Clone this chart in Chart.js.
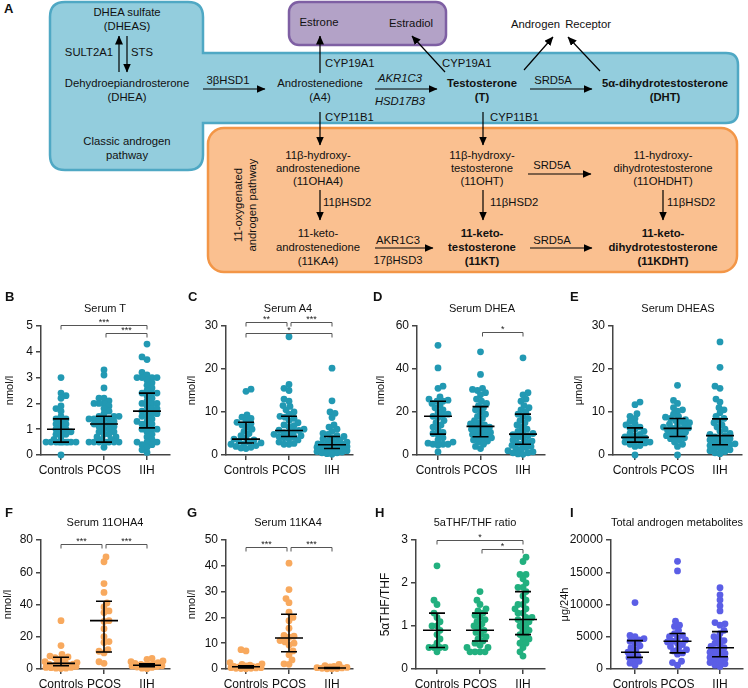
<!DOCTYPE html>
<html><head><meta charset="utf-8">
<script src="https://cdn.jsdelivr.net/npm/chart.js@4.4.1/dist/chart.umd.min.js"></script>
<style>
body{margin:0;background:#fff;}
#wrap{position:relative;width:748px;height:688px;overflow:hidden;font-family:'Liberation Sans',Arial,sans-serif;color:#111;background:#fff;}
.ttl{position:absolute;white-space:nowrap;transform:translate(-50%,-50%);font-size:11px;line-height:1;z-index:2;}
.let{position:absolute;font-weight:bold;font-size:13px;line-height:1;transform:translateY(-50%);z-index:2;}
canvas{position:absolute;}
svg text{fill:#111;}
</style></head><body><div id="wrap">
<svg width="748" height="285" style="position:absolute;left:0;top:0" font-family="Liberation Sans, Arial, sans-serif" font-size="11">
<defs><marker id="ah" markerUnits="userSpaceOnUse" markerWidth="9" markerHeight="8" refX="8.5" refY="4" orient="auto"><path d="M0,0 L9,4 L0,8 z" fill="#000"/></marker></defs>
<path d="M65,2 H188 Q203,2 203,17 V53 H726 Q738,53 738,65 V111 Q738,123 726,123 H203 V155 Q203,170 188,170 H65 Q50,170 50,155 V17 Q50,2 65,2 Z" fill="#93cddd" stroke="#4fa8c4" stroke-width="2.5"/>
<rect x="289" y="2" width="157" height="43" rx="10" fill="#b3a2c7" stroke="#7e5fa3" stroke-width="2.5"/>
<rect x="208" y="128" width="529" height="144" rx="16" fill="#fac090" stroke="#f39647" stroke-width="2.5"/>
<g stroke="#000" stroke-width="1.2" marker-end="url(#ah)">
<line x1="119" y1="72" x2="119" y2="36"/>
<line x1="127" y1="36" x2="127" y2="72"/>
<line x1="203" y1="89" x2="265" y2="89"/>
<line x1="320" y1="73" x2="320" y2="36"/>
<line x1="445" y1="72" x2="412" y2="36"/>
<line x1="375" y1="89" x2="437" y2="89"/>
<line x1="530" y1="89" x2="592" y2="89"/>
<line x1="524" y1="70" x2="553" y2="37"/>
<line x1="600" y1="71" x2="568" y2="37"/>
<line x1="320" y1="112" x2="320" y2="145"/>
<line x1="483" y1="112" x2="483" y2="145"/>
<line x1="320" y1="190" x2="320" y2="220"/>
<line x1="483" y1="190" x2="483" y2="220"/>
<line x1="663" y1="190" x2="663" y2="220"/>
<line x1="528" y1="174" x2="591" y2="174"/>
<line x1="375" y1="248" x2="433" y2="248"/>
<line x1="530" y1="248" x2="592" y2="248"/>
</g>
<g dominant-baseline="central" text-anchor="middle" font-size="11.3">
<text x="127" y="12">DHEA sulfate</text>
<text x="127" y="26">(DHEAS)</text>
<text x="113" y="52" text-anchor="end">SULT2A1</text>
<text x="131" y="52" text-anchor="start">STS</text>
<text x="127" y="83">Dehydroepiandrosterone</text>
<text x="127" y="97">(DHEA)</text>
<text x="228" y="80">3βHSD1</text>
<text x="320" y="83">Androstenedione</text>
<text x="320" y="97">(A4)</text>
<text x="319" y="22">Estrone</text>
<text x="325" y="63" text-anchor="start">CYP19A1</text>
<text x="411" y="23">Estradiol</text>
<text x="442" y="63" text-anchor="start">CYP19A1</text>
<text x="400" y="78" font-style="italic">AKR1C3</text>
<text x="400" y="101" font-style="italic">HSD17B3</text>
<text x="482" y="83" font-weight="bold">Testosterone</text>
<text x="482" y="97" font-weight="bold">(T)</text>
<text x="553" y="80">SRD5A</text>
<text x="665" y="83" font-weight="bold">5α-dihydrotestosterone</text>
<text x="665" y="97" font-weight="bold">(DHT)</text>
<text x="561" y="24" word-spacing="2">Androgen Receptor</text>
<text x="325" y="117" text-anchor="start">CYP11B1</text>
<text x="490" y="117" text-anchor="start">CYP11B1</text>
<text x="127" y="141">Classic androgen</text>
<text x="127" y="155">pathway</text>
<text transform="translate(238,205) rotate(-90)">11-oxygenated</text>
<text transform="translate(252,205) rotate(-90)">androgen pathway</text>
<text x="318" y="155">11β-hydroxy-</text>
<text x="318" y="168">androstenedione</text>
<text x="318" y="181">(11OHA4)</text>
<text x="323" y="202" text-anchor="start">11βHSD2</text>
<text x="318" y="233">11-keto-</text>
<text x="318" y="247">androstenedione</text>
<text x="318" y="261">(11KA4)</text>
<text x="398" y="240">AKR1C3</text>
<text x="398" y="260">17βHSD3</text>
<text x="482" y="155">11β-hydroxy-</text>
<text x="482" y="168">testosterone</text>
<text x="482" y="181">(11OHT)</text>
<text x="490" y="202" text-anchor="start">11βHSD2</text>
<text x="482" y="233" font-weight="bold">11-keto-</text>
<text x="482" y="247" font-weight="bold">testosterone</text>
<text x="482" y="261" font-weight="bold">(11KT)</text>
<text x="552" y="165">SRD5A</text>
<text x="552" y="240">SRD5A</text>
<text x="663" y="155">11-hydroxy-</text>
<text x="663" y="168">dihydrotestosterone</text>
<text x="663" y="181">(11OHDHT)</text>
<text x="667" y="202" text-anchor="start">11βHSD2</text>
<text x="663" y="233" font-weight="bold">11-keto-</text>
<text x="663" y="247" font-weight="bold">dihydrotestosterone</text>
<text x="663" y="261" font-weight="bold">(11KDHT)</text>
</g>
</svg>
<div class="let" style="left:4px;top:8px">A</div>
</div>
<script>
// ---------- DATA ----------
const CATEGORIES = ['Controls', 'PCOS', 'IIH'];

const T_CONTROLS = [3.0, 2.4, 2.3, 2.2, 1.9, 1.8, 1.7, 1.5, 1.4, 1.4, 1.3, 1.2, 1.2, 1.1, 1.0, 1.0, 0.9, 0.9, 0.8, 0.8, 0.7, 0.6, 0.5, 0.5, 0.5, 0.5, 0.5, 0.5, 0.5, 0.5, 0.5, 0.5, 0.0];
const T_PCOS = [3.3, 3.1, 2.6, 2.2, 2.2, 2.1, 2.0, 2.0, 2.0, 1.9, 1.8, 1.7, 1.6, 1.5, 1.5, 1.5, 1.4, 1.4, 1.4, 1.4, 1.3, 1.3, 1.2, 1.2, 1.2, 1.1, 1.1, 1.0, 1.0, 0.9, 0.9, 0.8, 0.8, 0.7, 0.7, 0.6, 0.6, 0.5, 0.5, 0.5, 0.5, 0.5, 0.5, 0.5, 0.5, 0.3];
const T_IIH = [4.3, 3.8, 3.7, 3.2, 3.1, 3.0, 3.0, 3.0, 3.0, 2.9, 2.8, 2.7, 2.6, 2.5, 2.4, 2.4, 2.4, 2.3, 2.2, 2.1, 2.0, 2.0, 2.0, 1.9, 1.8, 1.8, 1.7, 1.7, 1.6, 1.6, 1.5, 1.5, 1.4, 1.3, 1.3, 1.2, 1.2, 1.1, 1.0, 1.0, 1.0, 0.9, 0.8, 0.7, 0.6, 0.5, 0.5, 0.5, 0.4, 0.4, 0.3, 0.2, 0.1];
const T_MEDIAN = [1.0, 1.2, 1.7];
const T_Q1 = [0.5, 0.5, 1.05];
const T_Q3 = [1.4, 1.5, 2.4];

const A4_CONTROLS = [15.3, 14.8, 9.3, 8.8, 8.5, 8.0, 7.6, 7.3, 7.0, 6.5, 6.0, 5.5, 5.0, 4.5, 4.0, 3.7, 3.5, 3.2, 3.0, 2.8, 2.6, 2.5, 2.2, 2.0, 1.8, 1.6, 1.5];
const A4_PCOS = [27.5, 16.4, 15.5, 15.0, 13.0, 12.5, 11.5, 11.3, 10.5, 10.0, 9.5, 9.0, 8.8, 8.5, 8.0, 7.5, 7.0, 6.8, 6.5, 6.0, 5.8, 5.7, 5.5, 5.2, 5.0, 4.8, 4.5, 4.3, 4.2, 4.0, 3.8, 3.5, 3.0, 2.7, 2.5, 2.5];
const A4_IIH = [20.2, 12.6, 10.0, 9.7, 8.7, 7.0, 6.5, 6.0, 5.5, 5.0, 4.8, 4.5, 4.3, 4.0, 3.8, 3.5, 3.3, 3.0, 3.0, 2.8, 2.6, 2.5, 2.5, 2.4, 2.3, 2.2, 2.0, 2.0, 1.8, 1.7, 1.5, 1.5, 1.3, 1.2, 1.0, 1.0, 0.8, 0.7, 0.5, 0.5, 0.3, 0.2];
const A4_MEDIAN = [3.7, 5.7, 2.4];
const A4_Q1 = [2.8, 4.3, 1.5];
const A4_Q3 = [7.6, 9.0, 4.3];

const DHEA_CONTROLS = [51, 40.5, 32, 31, 27, 26, 25.5, 25, 25, 24, 23, 22, 21, 20, 19, 18.5, 18, 17.5, 16, 15, 14, 13, 12, 10.5, 10, 9.5, 8, 7, 6, 5.5, 5, 5, 5, 4.5, 1.5];
const DHEA_PCOS = [48, 37.5, 31, 30.5, 30, 29, 28, 26, 25, 24, 23, 22, 21, 20, 19, 18, 17, 16, 15, 14.5, 14, 13.5, 13, 12.5, 12, 11.5, 11, 10.5, 10, 9.5, 9, 8.5, 8, 7.5, 7, 6.5, 6, 5, 4, 3];
const DHEA_IIH = [45.2, 29, 28, 26, 25, 23, 22, 21, 20, 19, 18, 17, 16, 15, 14, 13, 12, 11, 10.5, 10, 9.5, 9, 8.5, 8, 7, 6.5, 6, 5.5, 5, 4.5, 4, 3.5, 3, 2.5, 2, 1.5, 1, 1, 0.5, 0.3];
const DHEA_MEDIAN = [18, 13.3, 9.7];
const DHEA_Q1 = [9.7, 8.5, 5];
const DHEA_Q3 = [25, 22.5, 19];

const DHEAS_CONTROLS = [12.3, 11.7, 9.6, 9.0, 8.5, 7.8, 7.3, 7.0, 6.5, 6.3, 6.0, 5.5, 5.0, 4.8, 4.5, 4.2, 4.0, 3.8, 3.5, 3.3, 3.0, 3.0, 2.8, 2.5, 2.2, 2.0, 0.0];
const DHEAS_PCOS = [16.2, 12.7, 12.0, 11.0, 10.5, 10.2, 9.5, 9.0, 8.8, 8.5, 8.2, 8.0, 7.8, 7.5, 7.2, 7.0, 6.8, 6.5, 6.3, 6.2, 6.0, 5.8, 5.5, 5.3, 5.0, 4.8, 4.5, 4.3, 4.0, 3.8, 3.5, 3.0, 2.5, 2.0, 0.0];
const DHEAS_IIH = [26.3, 20.4, 16.0, 15.5, 13.0, 12.3, 11.0, 10.5, 9.8, 9.0, 8.5, 8.0, 7.5, 7.0, 6.5, 6.0, 5.5, 5.0, 4.8, 4.5, 4.2, 4.0, 3.8, 3.5, 3.2, 3.0, 2.8, 2.6, 2.4, 2.2, 2.0, 1.8, 1.5, 1.2, 1.0, 0.8, 0.5, 0.3];
const DHEAS_MEDIAN = [4.1, 6.2, 4.5];
const DHEAS_Q1 = [3.0, 4.3, 2.4];
const DHEAS_Q3 = [6.3, 8.5, 8.4];

const OHA4_CONTROLS = [30, 14.5, 9, 8, 7.5, 7, 6, 5, 4.5, 4, 3.5, 3, 3, 2.5, 2, 2, 1.5, 1.5, 1, 1, 0.8, 0.5, 0.5, 0.3];
const OHA4_PCOS = [69.5, 66.5, 53, 47.5, 41, 38.5, 36, 35, 30, 29.5, 25, 20, 17, 16.5, 12, 11, 10, 4.5, 3.5];
const OHA4_IIH = [6.5, 6, 5, 4.5, 4, 3.5, 3, 2.8, 2.5, 2.3, 2, 1.8, 1.5, 1.2, 1, 0.5, 0.2];
const OHA4_MEDIAN = [3.5, 30, 2.3];
const OHA4_Q1 = [2, 10.5, 1.5];
const OHA4_Q3 = [7.3, 42, 3.2];

const KA4_CONTROLS = [7.5, 7, 2.5, 2, 1.8, 1.5, 1.2, 1, 1, 0.9, 0.8, 0.7, 0.6, 0.5, 0.5, 0.4, 0.3, 0.3, 0.2, 0.1];
const KA4_PCOS = [41, 30.8, 27.3, 25.7, 22, 20, 18.7, 15.8, 13, 12.7, 12.3, 11, 10.5, 10, 9.3, 7, 5.5, 3.5, 2, 1.8];
const KA4_IIH = [1.8, 1.3, 1, 0.8, 0.6, 0.5, 0.4, 0.3, 0.2, 0.1, 0.1];
const KA4_MEDIAN = [0.9, 12, 0.4];
const KA4_Q1 = [0.4, 6.7, 0.2];
const KA4_Q3 = [1.2, 21.2, 0.6];

const RATIO_CONTROLS = [2.4, 1.6, 1.5, 1.3, 1.2, 1.1, 1.0, 1.0, 0.9, 0.8, 0.7, 0.6, 0.5, 0.5, 0.5, 0.5, 0.4];
const RATIO_PCOS = [1.8, 1.6, 1.5, 1.4, 1.35, 1.3, 1.25, 1.2, 1.15, 1.1, 1.05, 1.0, 0.95, 0.9, 0.85, 0.8, 0.75, 0.7, 0.65, 0.6, 0.55, 0.5, 0.5, 0.4, 0.4, 0.4, 0.4];
const RATIO_IIH = [2.6, 2.5, 2.2, 2.2, 2.1, 2.0, 1.9, 1.9, 1.8, 1.7, 1.6, 1.5, 1.5, 1.4, 1.4, 1.3, 1.3, 1.2, 1.2, 1.15, 1.1, 1.1, 1.0, 1.0, 0.9, 0.9, 0.8, 0.8, 0.7, 0.7, 0.6, 0.6, 0.5, 0.4, 0.3];
const RATIO_MEDIAN = [0.9, 0.9, 1.15];
const RATIO_Q1 = [0.5, 0.65, 0.8];
const RATIO_Q3 = [1.3, 1.3, 1.8];

const TOTAL_CONTROLS = [10300, 5200, 5000, 4700, 4500, 4300, 4000, 3600, 3300, 3000, 2600, 2300, 2000, 1800, 1500, 1200, 900, 600];
const TOTAL_PCOS = [16700, 15200, 7400, 6800, 6600, 6000, 5500, 5200, 5000, 4800, 4500, 4300, 4200, 4000, 3800, 3500, 3200, 3000, 2800, 2500, 2300, 1200, 1000, 600];
const TOTAL_IIH = [12600, 11500, 10700, 9800, 9000, 7200, 7000, 6800, 6000, 5500, 5000, 4700, 4400, 4000, 3800, 3500, 3300, 3000, 2800, 2600, 2400, 2200, 2000, 1800, 1600, 1400, 1200, 1000, 800, 600, 400];
const TOTAL_MEDIAN = [2600, 4300, 3300];
const TOTAL_Q1 = [1800, 2500, 1900];
const TOTAL_Q3 = [4400, 5500, 5800];

// ---------- STYLE / LAYOUT ----------
const TEAL = '#2299b3', ORANGE = '#f8a95e', GREEN = '#22b07f', BLUE = '#5b5ee6';
const AXIS = '#444';
Chart.defaults.font.family = "'Liberation Sans', Arial, sans-serif";

const PANELS = [
  {letter:'B', title:'Serum T', ytitle:'nmol/l', series:[T_CONTROLS,T_PCOS,T_IIH], med:T_MEDIAN, q1:T_Q1, q3:T_Q3, ymax:5, step:1, color:TEAL,
   x0:0, l:41, r:170, t:326, b:455, cats:[61,104,147], ytx:10, tx:105, ty:308, lx:5, ly:296,
   sig:[{a:1,b:3,y:5.04,t:'***'},{a:2,b:3,y:4.73,t:'***'}]},
  {letter:'C', title:'Serum A4', ytitle:'nmol/l', series:[A4_CONTROLS,A4_PCOS,A4_IIH], med:A4_MEDIAN, q1:A4_Q1, q3:A4_Q3, ymax:30, step:10, color:TEAL,
   x0:185, l:226, r:353, t:326, b:455, cats:[246,289,332], ytx:6, tx:288, ty:308, lx:188, ly:296,
   sig:[{a:1,b:2,y:30.9,t:'**'},{a:2,b:3,y:30.9,t:'***'},{a:1,b:3,y:28.4,t:'*'}]},
  {letter:'D', title:'Serum DHEA', ytitle:'nmol/l', series:[DHEA_CONTROLS,DHEA_PCOS,DHEA_IIH], med:DHEA_MEDIAN, q1:DHEA_Q1, q3:DHEA_Q3, ymax:60, step:20, color:TEAL,
   x0:370, l:417, r:545, t:326, b:455, cats:[438,481,523], ytx:11, tx:482, ty:308, lx:373, ly:296,
   sig:[{a:2,b:3,y:57.2,t:'*'}]},
  {letter:'E', title:'Serum DHEAS', ytitle:'μmol/l', series:[DHEAS_CONTROLS,DHEAS_PCOS,DHEAS_IIH], med:DHEAS_MEDIAN, q1:DHEAS_Q1, q3:DHEAS_Q3, ymax:30, step:10, color:TEAL,
   x0:558, l:613, r:742, t:326, b:455, cats:[635,678,720], ytx:21, tx:678, ty:308, lx:570, ly:296, sig:[]},
  {letter:'F', title:'Serum 11OHA4', ytitle:'nmol/l', series:[OHA4_CONTROLS,OHA4_PCOS,OHA4_IIH], med:OHA4_MEDIAN, q1:OHA4_Q1, q3:OHA4_Q3, ymax:80, step:20, color:ORANGE,
   x0:0, l:41, r:170, t:540, b:669, cats:[61,104,147], ytx:8, tx:105, ty:522, lx:5, ly:512,
   sig:[{a:1,b:2,y:77.5,t:'***'},{a:2,b:3,y:77.5,t:'***'}]},
  {letter:'G', title:'Serum 11KA4', ytitle:'nmol/l', series:[KA4_CONTROLS,KA4_PCOS,KA4_IIH], med:KA4_MEDIAN, q1:KA4_Q1, q3:KA4_Q3, ymax:50, step:10, color:ORANGE,
   x0:185, l:226, r:353, t:540, b:669, cats:[246,289,332], ytx:5, tx:288, ty:522, lx:187, ly:512,
   sig:[{a:1,b:2,y:47.3,t:'***'},{a:2,b:3,y:47.3,t:'***'}]},
  {letter:'H', title:'5aTHF/THF ratio', ytitle:'5αTHF/THF', ytsize:12, series:[RATIO_CONTROLS,RATIO_PCOS,RATIO_IIH], med:RATIO_MEDIAN, q1:RATIO_Q1, q3:RATIO_Q3, ymax:3, step:1, color:GREEN,
   x0:370, l:416, r:545, t:540, b:669, cats:[437,480,523], ytx:16, tx:475, ty:522, lx:375, ly:512,
   sig:[{a:1,b:3,y:3.0,t:'*'},{a:2,b:3,y:2.79,t:'*'}]},
  {letter:'I', title:'Total androgen metabolites', ytitle:'μg/24h', series:[TOTAL_CONTROLS,TOTAL_PCOS,TOTAL_IIH], med:TOTAL_MEDIAN, q1:TOTAL_Q1, q3:TOTAL_Q3, ymax:20000, step:5000, color:BLUE,
   x0:558, l:611, r:743, t:540, b:669, cats:[635,678,720], ytx:6, tx:677, ty:522, lx:570, ly:512, sig:[]}
];

// deterministic beeswarm layout (pixel space)
function swarm(vals, yPx, maxOff, minD) {
  const idx = vals.map((_, i) => i).sort((a, b) => vals[a] - vals[b]);
  const placed = [], out = new Array(vals.length).fill(0);
  idx.forEach((i, n) => {
    const py = vals[i] * yPx;
    const sgn = n % 2 ? -1 : 1;
    const cands = [0];
    for (let k = 1; k <= maxOff; k++) cands.push(sgn * k, -sgn * k);
    let best = null, bestC = 0, bestScore = -1;
    for (const c of cands) {
      let dmin = Infinity;
      for (const p of placed) { const d = Math.hypot(p.x - c, p.y - py); if (d < dmin) dmin = d; }
      if (dmin >= minD) { best = c; break; }
      if (dmin > bestScore + 0.3) { bestScore = dmin; bestC = c; }
    }
    if (best === null) best = bestC;
    placed.push({x: best, y: py});
    out[i] = best;
  });
  return out;
}

const errorBars = {
  id: 'errorBars',
  afterDatasetsDraw(chart, args, opts) {
    const {ctx, scales: {x, y}} = chart;
    const p = opts.panel;
    ctx.save();
    ctx.strokeStyle = '#000';
    ctx.lineWidth = 1.6;
    for (let g = 0; g < 3; g++) {
      const cx = x.getPixelForValue(g + 1);
      const ym = y.getPixelForValue(p.med[g]), y1 = y.getPixelForValue(p.q1[g]), y3 = y.getPixelForValue(p.q3[g]);
      ctx.beginPath();
      ctx.moveTo(cx - 14, ym); ctx.lineTo(cx + 14, ym);
      ctx.moveTo(cx - 8, y1); ctx.lineTo(cx + 8, y1);
      ctx.moveTo(cx - 8, y3); ctx.lineTo(cx + 8, y3);
      ctx.moveTo(cx, y1); ctx.lineTo(cx, y3);
      ctx.stroke();
    }
    ctx.restore();
  }
};

const brackets = {
  id: 'brackets',
  afterDraw(chart, args, opts) {
    const {ctx, scales: {x, y}} = chart;
    ctx.save();
    ctx.strokeStyle = '#555';
    ctx.fillStyle = '#222';
    ctx.lineWidth = 1;
    ctx.font = "9px 'Liberation Sans', Arial, sans-serif";
    ctx.textAlign = 'center';
    ctx.textBaseline = 'bottom';
    for (const s of opts.panel.sig) {
      let x1 = x.getPixelForValue(s.a), x2 = x.getPixelForValue(s.b);
      if (s.a === 2) x1 += 2;
      if (s.b === 2) x2 -= 2;
      const yy = Math.round(y.getPixelForValue(s.y)) + 0.5;
      ctx.beginPath();
      ctx.moveTo(x1, yy + 4); ctx.lineTo(x1, yy); ctx.lineTo(x2, yy); ctx.lineTo(x2, yy + 4);
      ctx.stroke();
      ctx.fillText(s.t, (x1 + x2) / 2, yy + 2);
    }
    ctx.restore();
  }
};

const wrap = document.getElementById('wrap');
PANELS.forEach(p => {
  const PT = 26, PR = Math.min(5, 748 - p.r), XH = 24;
  const W = p.r + PR - p.x0, H = PT + (p.b - p.t) + XH;
  const cv = document.createElement('canvas');
  cv.width = W; cv.height = H;
  cv.style.left = p.x0 + 'px'; cv.style.top = (p.t - PT) + 'px';
  cv.style.width = W + 'px'; cv.style.height = H + 'px';
  wrap.appendChild(cv);
  const s = (p.cats[2] - p.cats[0]) / 2;
  const xmin = 1 - (p.cats[0] - p.l) / s, xmax = 3 + (p.r - p.cats[2]) / s;
  const yPx = (p.b - p.t) / p.ymax;
  const datasets = p.series.map((vals, gi) => {
    const offs = swarm(vals, yPx, 16, 5);
    return {
      data: vals.map((v, j) => ({x: gi + 1 + offs[j] / s, y: v})),
      backgroundColor: p.color, borderWidth: 0, pointRadius: 3.4, pointHoverRadius: 3.4, clip: false
    };
  });
  const gridOpt = {display: true, drawOnChartArea: false, drawTicks: true, tickLength: 5, color: AXIS, lineWidth: 1.5};
  const borderOpt = {display: true, color: AXIS, width: 1.5};
  const ytSize = p.ytsize || 11;
  const ytLH = ytSize * 1.2;
  new Chart(cv, {
    type: 'scatter',
    data: {datasets},
    options: {
      responsive: false, animation: false, events: [],
      layout: {padding: {left: 0, top: PT, right: PR, bottom: 0}},
      plugins: {legend: {display: false}, tooltip: {enabled: false}, errorBars: {panel: p}, brackets: {panel: p}},
      scales: {
        x: {
          type: 'linear', min: xmin, max: xmax,
          afterBuildTicks: sc => { sc.ticks = [1, 2, 3].map(v => ({value: v})); },
          ticks: {callback: v => CATEGORIES[v - 1], font: {size: 12}, color: '#111', padding: 3, maxRotation: 0, autoSkip: false},
          grid: gridOpt, border: borderOpt,
          afterFit: sc => { sc.height = XH; }
        },
        y: {
          min: 0, max: p.ymax,
          ticks: {stepSize: p.step, font: {size: 12}, color: '#111', padding: 3, callback: v => String(v)},
          grid: gridOpt, border: borderOpt,
          title: {display: true, text: p.ytitle, font: {size: ytSize}, color: '#111', padding: {top: Math.max(0, p.ytx - ytLH / 2), bottom: 0}},
          afterFit: sc => { sc.width = p.l - p.x0; }
        }
      }
    },
    plugins: [errorBars, brackets]
  });
  const t = document.createElement('div');
  t.className = 'ttl'; t.textContent = p.title;
  t.style.left = p.tx + 'px'; t.style.top = p.ty + 'px';
  wrap.appendChild(t);
  const L = document.createElement('div');
  L.className = 'let'; L.textContent = p.letter;
  L.style.left = p.lx + 'px'; L.style.top = p.ly + 'px';
  wrap.appendChild(L);
});
</script>
</body></html>
